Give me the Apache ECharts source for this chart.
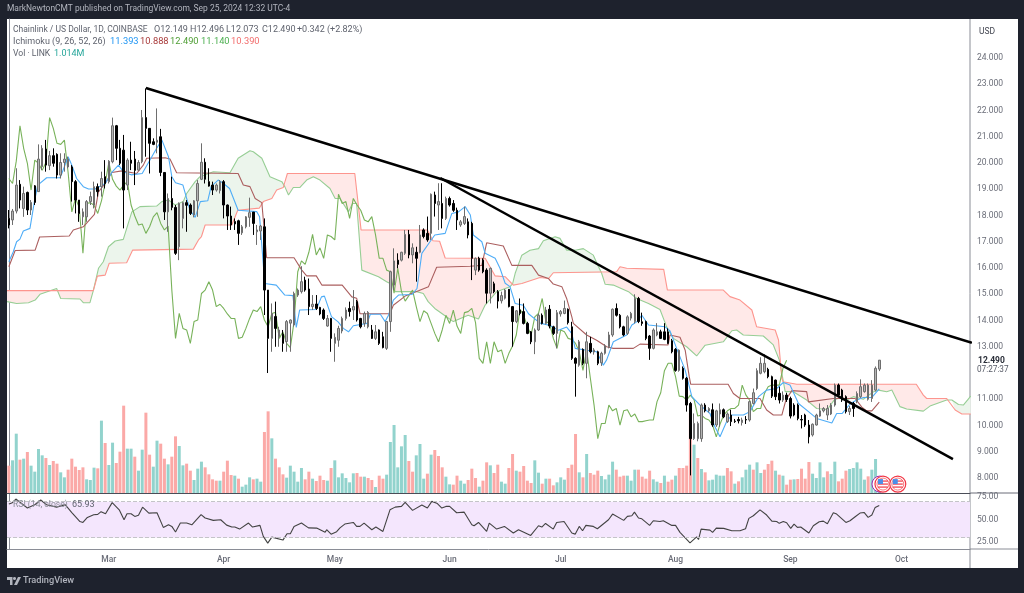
<!DOCTYPE html>
<html>
<head>
<meta charset="utf-8">
<script src="https://cdn.jsdelivr.net/npm/echarts@6/dist/echarts.min.js"></script>
<style>
  html, body { margin: 0; padding: 0; background: #1e222d; }
  #chart { width: 1024px; height: 593px; }
</style>
</head>
<body>
<div id="chart"></div>
<script>
// daily candles from Feb 3 2024: [open, close, low, high]
const candles = [
  [17.89,17.64,17.51,18.21],[17.83,18.17,17.64,18.25],[18.17,19.16,18.08,19.8],[19.19,18.59,18.27,19.35],[18.27,18.84,17.95,19.1],
  [18.88,18.21,18.02,18.91],[18.21,18.5,18.02,18.59],[19.13,18.5,18.4,19.16],[18.91,20.15,18.91,20.71],[19.86,20.56,19.73,20.68],
  [20.53,19.92,19.67,20.88],[19.9,20.28,19.73,20.46],[20.28,19.99,19.86,20.56],[20.33,19.54,19.41,20.37],[19.54,20.02,19.41,20.37],
  [20.02,20.15,19.67,20.37],[19.85,20.15,19.8,20.24],[19.85,19.29,18.53,19.92],[19.29,18.59,18.08,19.35],[18.59,18.08,17.76,18.59],
  [17.95,18.14,17.64,18.27],[17.95,18.53,17.76,18.59],[18.53,18.72,18.4,18.91],[18.4,19.1,18.27,19.29],[19.1,18.91,18.72,19.22],
  [19.1,19.41,18.72,19.67],[19.48,19.22,19.03,20.11],[19.29,20.07,19.22,20.11],[20.05,21.42,19.99,21.73],[21.42,20.56,20.11,21.45],
  [20.56,19.99,19.92,20.88],[20.49,18.97,17.51,21.07],[19.16,20.11,18.97,20.18],[20.11,19.99,19.73,20.81],[20.15,19.72,19.16,20.46],
  [19.73,20.02,19.7,20.11],[20.05,21.73,19.99,22.02],[21.73,21.32,20.24,22.84],[21.32,20.75,19.6,21.32],[20.81,20.71,20.68,20.94],
  [20.79,20.87,20.37,22.08],[21.0,19.64,19.5,21.3],[19.64,18.14,17.83,19.64],[18.14,18.65,17.38,18.84],[18.65,18.31,18.2,19.48],
  [18.31,16.56,16.5,18.4],[16.81,18.46,16.3,18.5],[17.89,18.49,17.51,18.53],[18.49,18.39,17.38,18.59],[18.4,18.08,18.02,18.46],
  [18.02,18.56,17.93,18.59],[18.56,19.22,17.95,19.35],[19.38,20.03,19.35,20.75],[20.03,19.38,19.22,20.18],[19.29,19.12,19.1,19.8],
  [19.16,18.97,18.78,19.29],[18.97,19.16,18.91,19.22],[18.95,19.29,18.84,19.35],[19.29,18.4,17.89,19.35],[18.4,17.98,17.45,18.42],
  [17.98,17.64,17.45,18.34],[17.77,17.68,17.45,17.89],[17.8,17.32,16.88,17.84],[17.34,17.57,17.26,17.64],[17.57,17.95,17.51,17.98],
  [17.93,18.11,17.57,18.68],[18.13,17.7,17.26,18.13],[17.38,17.45,16.88,17.64],[17.41,17.6,17.07,17.64],[17.57,15.16,14.21,17.89],
  [15.16,13.32,12.0,15.16],[13.32,14.27,12.81,14.65],[14.15,13.7,13.0,14.72],[13.38,13.64,13.0,13.76],[13.48,13.13,12.81,13.64],
  [13.2,13.96,12.81,14.02],[13.9,14.02,12.81,14.04],[13.83,15.03,13.77,15.1],[14.97,15.16,14.9,15.22],[15.1,15.48,15.03,16.07],
  [15.54,15.16,15.1,15.67],[15.2,14.53,14.21,15.6],[14.53,14.62,14.4,14.97],[14.63,14.46,14.4,14.97],[14.5,14.25,14.2,14.52],
  [14.4,14.08,14.02,14.46],[13.79,14.08,13.76,14.21],[14.08,13.32,12.81,14.1],[13.13,13.36,12.43,13.51],[13.25,13.7,13.0,13.8],
  [13.6,14.08,13.51,14.15],[14.08,14.4,14.0,14.5],[14.46,14.34,14.15,14.72],[14.4,14.53,14.02,15.16],[14.72,14.02,13.96,14.78],
  [14.08,13.76,13.7,14.1],[13.89,14.27,13.76,14.34],[13.76,14.31,13.7,14.36],[13.64,13.32,13.3,13.83],[13.32,13.57,13.26,13.83],
  [13.64,13.13,13.07,13.66],[13.38,12.97,12.94,13.57],[12.94,13.96,12.88,13.98],[13.96,15.86,13.57,15.9],[15.35,16.27,15.16,16.75],
  [16.3,16.14,15.99,16.56],[16.3,16.6,16.25,16.62],[16.56,17.28,16.5,17.45],[17.28,16.5,16.37,17.45],[16.5,16.77,16.18,16.94],
  [16.6,16.37,15.48,16.81],[16.6,17.26,16.56,17.64],[17.45,17.2,17.13,17.51],[17.32,17.07,17.0,17.96],[17.32,18.81,17.07,18.84],
  [18.78,18.46,17.96,18.91],[18.4,18.53,17.45,19.23],[18.46,17.89,17.51,19.23],[17.89,18.65,17.83,18.72],[18.65,18.4,18.34,18.72],
  [18.46,18.2,18.14,18.59],[18.2,17.83,17.45,18.3],[17.64,17.76,17.57,17.83],[17.7,17.96,17.64,18.34],[17.76,17.26,17.13,17.89],
  [17.7,16.37,15.54,17.76],[15.92,16.37,15.73,16.4],[16.37,15.92,15.86,16.43],[16.3,15.86,15.8,16.37],[15.92,15.04,14.65,15.99],
  [15.04,15.99,14.65,16.02],[15.4,15.1,15.04,15.48],[15.1,14.74,14.46,15.16],[14.75,14.95,14.65,15.1],[14.85,15.16,14.8,15.2],
  [15.19,14.53,14.5,15.2],[14.53,13.96,13.0,14.55],[13.96,14.37,13.9,14.4],[14.4,14.27,14.2,14.84],[14.34,13.89,13.85,14.65],
  [13.89,13.51,13.48,13.95],[13.57,13.19,13.1,13.6],[13.19,13.64,12.72,13.7],[13.64,14.2,13.6,14.27],[14.2,13.89,13.85,14.27],
  [13.89,14.4,13.85,14.52],[14.43,13.79,13.7,14.59],[13.76,13.51,13.45,13.8],[13.51,14.3,12.94,14.4],[14.25,14.34,14.15,14.4],
  [14.27,14.46,14.24,14.76],[14.43,13.92,13.85,14.46],[13.76,12.56,12.5,13.95],[12.56,12.37,11.1,12.6],[12.3,13.19,12.24,13.26],
  [12.9,12.37,12.3,12.94],[12.37,13.19,11.8,13.57],[13.13,12.81,12.75,13.38],[12.8,12.88,12.7,12.95],[12.81,12.37,12.3,12.85],
  [12.39,12.75,12.27,12.81],[12.75,13.03,12.7,13.1],[13.0,13.45,12.94,13.57],[13.45,14.43,13.38,14.46],[14.46,14.2,14.15,14.65],
  [14.2,13.76,13.7,14.25],[13.76,13.45,13.4,13.8],[13.51,14.14,13.45,14.2],[14.09,14.27,14.0,14.33],[13.96,14.84,13.89,15.0],
  [14.84,13.96,13.9,14.9],[13.95,13.89,13.8,14.3],[13.96,13.32,13.25,14.0],[13.41,12.94,12.5,13.45],[12.94,13.64,12.9,13.7],
  [13.45,13.57,13.4,13.9],[13.57,13.32,13.3,13.65],[13.57,13.28,13.25,13.9],[13.57,13.13,13.1,13.7],[13.23,12.81,12.75,13.3],
  [12.9,12.1,12.05,12.95],[12.1,12.87,12.05,12.9],[12.18,11.8,11.75,12.25],[11.8,10.78,10.53,11.85],[10.84,9.5,8.1,10.9],
  [9.5,10.08,9.45,10.46],[9.5,10.08,9.4,10.15],[9.5,10.78,9.38,10.84],[10.78,10.56,10.5,10.85],[10.56,10.65,10.5,10.7],
  [10.6,10.02,9.95,10.84],[10.02,10.56,9.95,10.6],[10.44,10.6,9.95,10.84],[10.6,10.33,10.28,10.65],[10.15,10.44,10.1,10.5],
  [10.4,10.15,9.98,10.6],[10.17,10.15,10.1,10.25],[10.23,10.18,10.08,10.33],[10.11,10.21,10.0,10.3],[10.23,10.21,10.06,10.36],
  [10.21,10.91,10.15,10.95],[10.84,11.25,10.8,11.41],[11.41,12.09,11.35,12.18],[11.99,12.37,11.95,12.6],[12.05,12.37,11.99,12.72],
  [12.14,11.86,11.8,12.2],[11.86,11.12,11.05,11.9],[11.73,11.1,10.97,11.75],[11.23,10.97,10.84,11.48],[10.97,11.16,10.9,11.3],
  [11.16,10.99,10.9,11.25],[11.03,10.36,10.27,11.1],[10.78,10.4,10.35,10.85],[10.78,10.27,10.2,10.84],[10.23,10.21,9.89,10.4],
  [10.4,10.02,9.95,10.45],[10.02,9.57,9.32,10.21],[9.64,10.05,9.58,10.08],[10.02,10.4,10.0,10.45],[10.36,10.56,10.33,10.84],
  [10.56,10.65,10.5,10.7],[10.4,10.65,10.21,10.78],[10.44,10.78,10.4,10.85],[10.78,11.54,10.72,11.6],[11.54,11.16,11.1,11.6],
  [11.35,10.97,10.9,11.4],[11.1,10.53,10.46,11.15],[10.53,10.65,10.4,10.75],[10.84,10.65,10.33,10.9],[10.9,11.22,10.85,11.3],
  [11.1,11.48,11.05,11.76],[11.29,11.54,11.25,11.6],[11.0,11.54,10.95,11.6],[11.03,11.54,10.9,11.73],[11.35,12.18,11.3,12.25],
  [12.149,12.49,12.073,12.496]
]

// ichimoku, as [bar index, price] corners
const conversionLine = [[0,16.24],[1.2,16.62],[2.1,17],[3,17.1],[3.9,17.41],[5.7,17.51],[6.9,18.53],[7.8,19.16],[10.2,19.44],[13.8,19.44],[14.3,19.6],[16,20.24],[17,19.92],[18.3,19.41],[20.1,19.1],[21.5,19.01],[23.3,19.01],[26,19.22],[27.8,19.64],[29.6,19.92],[30.9,19.67],[33,19.55],[36,19.6],[38.6,20.24],[39.9,20.56],[41.3,20.88],[43.1,20.24],[44,19.48],[45,19.25],[47,19.16],[48.9,18.2],[50.3,17.93],[51.7,18.53],[53.7,18.56],[54.6,19.1],[56.5,19.35],[57.7,19.25],[59.6,19.03],[61.9,18.2],[66.9,18.15],[67.7,17.95],[69.1,15.41],[72.2,15.35],[74.5,14.97],[76.7,14.95],[77.6,13.74],[78.5,14.4],[83,14.42],[84.4,14.9],[85.2,14.93],[87.1,14.15],[88.9,13.95],[90.3,13.7],[91.7,13.57],[93,13.8],[96.7,13.89],[97.6,14.24],[100.3,14.24],[101.6,13.96],[102.5,14.2],[103.8,14.78],[105.2,14.97],[108.8,14.99],[110.2,15.22],[111.5,16.56],[113.7,17],[115,17.26],[117.8,17.32],[119.6,18.08],[121.4,18.14],[123.2,18.34],[124.6,18.02],[125.4,17.26],[127.7,17],[128.6,16.56],[131.3,16.37],[132.6,15.99],[134,15.42],[135.3,15.29],[136.7,14.65],[138.9,14.58],[140.3,14.26],[143.4,13.9],[146.1,13.81],[148.4,13.63],[150.6,13.75],[152,13.5],[152.9,12.94],[156,12.87],[158.7,12.81],[160.5,12.3],[161.4,12.5],[163.2,13.19],[166.8,13.45],[168.2,13.83],[169.5,13.95],[170.9,14.2],[172.7,13.83],[177.2,13.76],[178.5,13.6],[180.3,12.94],[182.6,12.11],[184.4,11.1],[186.6,10.78],[189.3,10.46],[190.6,9.96],[192,9.57],[193.8,10.15],[195.2,10.4],[198.3,10.4],[200.1,10.53],[202.4,11.1],[204.6,11.35],[207.3,11.41],[209.1,11.64],[210.9,11.54],[213.2,10.84],[215.9,10.53],[218.1,10.27],[222.2,10.1],[223.5,10.46],[225,10.46],[227.1,10.82],[228.9,10.97],[230.7,11.07],[233,11.07],[235,11.393]]
const baseLine = [[0,16.05],[1.7,16.67],[7.1,16.68],[8.3,17.18],[16.3,17.22],[17.4,17.45],[20.1,17.57],[23.1,18.04],[24.2,18.9],[26,19.22],[27.8,19.64],[30.5,19.7],[34.5,19.6],[36.3,19.92],[37.2,20.18],[42.2,20.2],[43.5,20.15],[45.3,19.63],[61.9,19.6],[63.3,19.16],[65.1,19.1],[66.5,18.65],[68.3,18.49],[69.6,16.39],[77,16.39],[79.1,15.92],[80.4,15.7],[83,15.7],[84.5,15.35],[90,15.35],[92.6,14.9],[93.9,14.85],[94.8,14.26],[102.9,14.26],[103.8,14.58],[107,14.93],[110.6,15.13],[113.3,15.29],[115.5,16.03],[124.5,16.07],[127.7,16.1],[129,16.96],[133.5,16.84],[135.8,16.1],[141.2,16.1],[143,15.73],[145.7,15.6],[147,15.39],[149.3,15.29],[150.6,14.84],[152,14.14],[152.4,13.89],[156,13.45],[158.7,13.25],[161.4,13],[163.2,12.94],[168.6,12.94],[170.4,13.1],[178,13.07],[178.5,13.45],[181.2,13.36],[182.6,12.87],[183.7,11.86],[184.1,11.57],[194.2,11.57],[195.6,11.22],[197.4,11.03],[202.8,11.03],[204.6,10.59],[206.4,10.4],[208.7,10.4],[209.8,10.98],[211.4,11.33],[215.4,11.29],[215.9,10.9],[222.6,11.03],[228.5,11.03],[230.3,10.7],[231.6,10.56],[233,10.56],[235,10.888]]
const leadA = [[-0.5,14.72],[2.1,14.65],[5.3,14.68],[7.1,14.78],[8.4,15],[12.9,15.22],[14,14.84],[19.2,14.82],[20.1,14.68],[21.9,14.68],[22.8,15.14],[24.2,15.99],[25.5,16.24],[26.9,16.81],[28.7,17.03],[30.9,17.09],[33.2,18.14],[35.4,18.34],[39.9,18.36],[41.3,18.53],[43.1,18.59],[44.9,18.4],[47.1,18.53],[48,18.84],[50.3,19.29],[51.6,19.48],[55.2,19.67],[59.7,19.63],[61.9,20.18],[65.1,20.47],[66,20.43],[68.3,20.18],[70.5,19.48],[73.7,19.29],[74.5,19.1],[75.5,18.78],[76.8,19.07],[78.6,19.07],[80.4,19.35],[82.2,19.48],[84,19.35],[86.7,19.03],[88.1,18.65],[89.4,18.65],[91.7,18.14],[92.8,18.46],[93.9,18.46],[95.3,15.92],[99.8,15.67],[102,15.48],[103.8,15.35],[104.3,15.1],[110.1,15.1],[111.9,15.03],[113.2,14.72],[115,14.46],[116.9,14.27],[120,13.96],[124,14.2],[126.8,14.06],[128.6,14.59],[131.7,15.1],[135.3,15.29],[136,15.4],[136.7,15.8],[138.5,16.49],[140.7,16.68],[143,16.74],[144.3,17.04],[147.5,17.19],[148.8,17.13],[150.6,16.68],[152.9,16.68],[155.1,16.74],[157.8,16.49],[159.2,16.05],[160,15.82],[161,15.38],[163.2,15.35],[167.3,15.1],[169.5,14.84],[172.7,14.65],[175.8,14.42],[177.6,13.76],[179.4,13.32],[183,13],[185.7,12.65],[188,13.06],[192.9,13.19],[195.2,13.61],[196.5,13.64],[198.3,13.45],[203.7,13.41],[206.4,13.07],[208,12.5],[208.7,11.99],[209.6,11.29],[211.8,11.29],[215.4,10.97],[218.1,10.65],[221,10.61],[222.8,10.97],[224.5,11.07],[226.2,10.97],[228,11.1],[230.7,11],[233.4,11.28],[234.8,11.35],[237,11.29],[238.4,11.35],[240.6,10.72],[242.4,10.63],[246.9,10.55],[248.7,10.74],[253.2,10.97],[254.6,10.97],[256.4,10.8],[257.7,10.78],[259.7,11.12]]
const leadB = [[-0.5,15.14],[22.8,15.14],[23.9,15.69],[26,15.73],[27.1,16.18],[31.8,16.2],[33.4,16.68],[49.8,16.72],[51.2,17.07],[52,17.2],[53,17.64],[60.2,17.64],[61.8,18.2],[67.6,18.28],[68.7,18.53],[71,18.65],[72.3,18.97],[74.1,19.07],[75.2,19.6],[93.4,19.6],[95.1,17.45],[113,17.45],[114.5,17.04],[116.3,17.02],[117.8,16.38],[128.6,16.37],[131.3,15.7],[134,15.67],[136.2,15.35],[138.5,15.41],[143.4,15.64],[145.7,15.6],[147,15.82],[164.1,15.86],[165,16.05],[166.8,15.99],[176.8,15.95],[177.8,15.16],[192.9,15.16],[194.7,14.91],[197.4,14.78],[200.6,14.4],[201.9,13.76],[206.9,13.64],[207.8,13.26],[208.7,11.8],[209,11.67],[212.7,11.57],[245,11.57],[246.9,11.16],[247.8,11.03],[253.2,11.03],[255.5,10.59],[257.3,10.44],[259.7,10.44]]
// lagging span from bar 0 onwards
const lagging = [19.41,19.22,20.07,21.42,20.56,19.99,18.97,20.11,19.99,19.72,20.02,21.73,21.32,20.75,20.71,20.87,19.64,18.14,18.65,18.31,
  16.56,18.46,18.49,18.39,18.08,18.56,19.22,20.03,19.38,19.12,18.97,19.16,19.29,18.4,17.98,17.64,17.68,17.32,17.57,17.95,
  18.11,17.7,17.45,17.6,15.16,13.32,14.27,13.7,13.64,13.13,13.96,14.02,15.03,15.16,15.48,15.16,14.53,14.62,14.46,14.25,
  14.08,14.08,13.32,13.36,13.7,14.08,14.4,14.34,14.53,14.02,13.76,14.27,14.31,13.32,13.57,13.13,12.97,13.96,15.86,16.27,
  16.14,16.6,17.28,16.5,16.77,16.37,17.26,17.2,17.07,18.81,18.46,18.53,17.89,18.65,18.4,18.2,17.83,17.76,17.96,17.26,
  16.37,16.37,15.92,15.86,15.04,15.99,15.1,14.74,14.95,15.16,14.53,13.96,14.37,14.27,13.89,13.51,13.19,13.64,14.2,13.89,
  14.4,13.79,13.51,14.3,14.34,14.46,13.92,12.56,12.37,13.19,12.37,13.19,12.81,12.88,12.37,12.75,13.03,13.45,14.43,14.2,
  13.76,13.45,14.14,14.27,14.84,13.96,13.89,13.32,12.94,13.64,13.57,13.32,13.28,13.13,12.81,12.1,12.87,11.8,10.78,9.5,
  10.08,10.08,10.78,10.56,10.65,10.02,10.56,10.6,10.33,10.44,10.15,10.15,10.18,10.21,10.21,10.91,11.25,12.09,12.37,12.37,
  11.86,11.12,11.1,10.97,11.16,10.99,10.36,10.4,10.27,10.21,10.02,9.57,10.05,10.4,10.56,10.65,10.65,10.78,11.54,11.16,
  10.97,10.53,10.65,10.65,11.22,11.48,11.54,11.54,11.54,12.18,12.49]
// cloud stretches between crossings of the two lead lines: [from, to, side]
const cloudSpans = [[-0.5,22.8,'r'],[22.8,74.5,'g'],[74.5,136,'r'],[136,160,'g'],[160,254,'r'],[254,259.7,'g']]

const volume = [.82,.98,1.78,1,1.03,1.23,.82,.64,1.32,1.13,1.05,.84,.96,.88,.62,.47,.7,1.03,.79,.69,.77,.41,.39,.76,.74,2.17,1.5,.84,1.51,.9,
  1.24,2.62,1.33,1.33,1.09,.67,1.3,2.41,1.15,.79,1.57,1.48,1.03,.86,1.09,1.7,1.41,.83,.88,.67,.39,.73,.94,.77,.56,.41,.37,.37,.64,.97,
  .54,.52,.43,.19,.25,.47,.41,.43,.34,1.83,2.45,1.64,1.03,.77,.56,.46,.82,.64,.34,.75,.41,.64,.43,.36,.52,.39,.37,.75,.98,.47,
  .59,.45,.32,.59,.6,.49,.49,.45,.39,.18,.52,.43,.55,1.53,2.04,.77,1.4,1.74,.96,.64,1.13,1.47,.43,.58,1.15,1.29,1.11,.77,.49,.26,
  .25,.52,.37,.28,.39,.73,.45,.19,.37,.92,.83,.6,.85,.34,.28,.75,1.17,.67,.64,.81,.37,.3,.98,.61,.28,.43,.43,.23,.32,.47,
  .4,.75,.85,1.77,.62,.47,1.17,.6,.55,.67,.51,.41,.55,.94,.7,.49,.52,.52,.37,.7,.7,.49,.43,.67,.41,.34,.3,.52,.34,.4,
  .52,.75,.75,.82,2.4,1.45,1.05,.72,.62,.38,.4,.55,.52,.52,.75,.65,.28,.35,.47,.7,.85,.7,.92,.6,.7,.87,.97,.67,.55,.52,
  .25,.4,.41,.42,.73,.43,.93,.58,.45,.92,.47,.65,.57,.94,.35,.43,.67,.72,.75,.92,.73,.4,.5,.7,1.02,.3]
// bar colour of each volume bar, ten bars to a group
const volumeSide = [
  'rggrgrgggg','rgrrggrrrr','rgggrgrggr','rrggrggrrg','grrgrrggrr','gggrrrrgrr','rgrgggrggr','rgrrrggggg',
  'rrgrrrgrgg','ggggrrgrrg','rrggggggrr','gggrgrrrgg','rrggrrrgrr','grrggrrgrr','rrggrgrrgg','grrrgrgrrr',
  'ggggrrrggg','rrrrggrgrr','grrrrgrgrg','ggggrrgrgg','grggrrrgrg','rrgrrrrggg','grggrrrggg','ggrggg'
].join('').split('')

const rsi = [[0,67.4],[.8,68.5],[1.9,73],[3,69.6],[5,63],[7,66.7],[8.6,71.9],[10.2,66.7],[12.9,64],[15.2,66.7],[17,58],[19.2,48],[20,47],[21.2,52.6],[22.9,55.6],[24,56],[24.9,59],[26.1,56.7],[27.9,69],[29.8,61],[31.1,50],[31.9,56.7],[33,56.7],[34,53.7],[35,55],[36.1,64],[37.8,57.4],[40,57.8],[41.7,41.5],[43.1,44.4],[44,42.6],[45,36.3],[46.3,46.3],[48,46.3],[49.4,44.4],[51.9,55.6],[53,51.9],[55.2,49.3],[57.2,50],[58.8,44],[60.2,41.9],[61,42],[62.3,39.6],[64.7,46.3],[65.8,41.9],[67.8,43.7],[68.7,31.5],[69.9,24],[71,30.7],[74,27.4],[75.1,34.4],[76,34.4],[77,42.6],[79,46.3],[80.9,41],[83.1,40.7],[85.4,36],[85.8,38.9],[87,34],[88.5,36.7],[89.4,41],[90.7,45.2],[93,47],[93.9,42.6],[94.8,42.6],[95.9,46.3],[98,38.9],[99.1,41.9],[101,37],[102.9,61],[104.3,64],[106,64.8],[107,69.3],[109,60.4],[111.5,66.3],[113,63],[114.2,70.4],[115.7,68],[116.9,63],[118,64.8],[119,64.8],[120.9,57.8],[122.9,58.5],[125,44.4],[125.6,43.3],[126.8,47],[129,37],[129.7,46.3],[131.7,39.6],[133.8,42.6],[136.2,35.2],[137.6,38.9],[140.9,32.6],[143,43.3],[143.9,41.9],[144.9,45.9],[147,39.6],[147.9,47],[149.9,48.1],[152,35.2],[152.9,34],[154,42.6],[154.9,37.8],[155.8,43.7],[157.8,42.6],[158.9,40],[161.9,50],[163,56.3],[166,49.3],[167,53.7],[168.2,54.4],[168.9,58.5],[170,51.9],[170.9,51],[173,43.7],[174,48.9],[175.8,48],[176.7,48.9],[179,43.7],[180,43.7],[181.2,36],[183.9,24.4],[185.7,31],[186.2,28],[186.9,39.6],[189.3,38.5],[190,36],[191,40.7],[193,40.4],[195.2,37.8],[197.4,37.8],[198.9,40],[199.8,51.5],[201,54.4],[202.8,61],[204.6,55.2],[206,48.5],[207.3,48],[208,46],[209.1,48],[210,46.7],[211.1,40.4],[212,45.2],[212.9,41.5],[213.8,41.9],[216,35.2],[217.2,43.3],[218.8,47.8],[219.9,48.5],[221,45.6],[222.6,57.8],[223.5,56.3],[226,47],[227.1,48.9],[228.5,53.3],[229.8,57.4],[230.9,58.1],[232,52.6],[233,55.2],[233.9,63.7],[235,65.93]]

const trendLineA = [[37,22.86],[260,13.15]]
const trendLineB = [[116.5,19.43],[254.9,8.72]]
const priceTicks = [8,9,10,11,13,14,15,16,17,18,19,20,21,22,23,24]
const rsiTicks = [25,50,75]
const monthTicks = [27,58,88,119,149,180,211,241]
const monthNames = ['Mar','Apr','May','Jun','Jul','Aug','Sep','Oct']
const earningsFlags = [[236,7.77],[240,7.77]]

const days = Array.from({ length: 260 }, (_, i) => String(i))
const axisGray = '#6a6d78'
const uiFont = 'Roboto, "Liberation Sans", sans-serif'

const plainLine = (name, data, color, width, z) => ({
  name, type: 'line', xAxisIndex: 1, yAxisIndex: 0, data, z,
  showSymbol: false, symbol: 'none', silent: true, animation: false,
  lineStyle: { color, width }
})

const inSpan = (line, from, to) => line.filter(p => p[0] >= from && p[0] <= to)

// one piece of header or legend text
const label = (x, y, text, fill, size, weight) => ({
  type: 'text', silent: true, z: 100, x, y,
  style: { text, fill, font: (weight || 'normal') + ' ' + size + 'px ' + uiFont }
})

const chart = echarts.init(document.getElementById('chart'))
chart.setOption({
  backgroundColor: '#1e222d',
  animation: false,
  textStyle: { fontFamily: uiFont },
  grid: [
    { left: 7, top: 19, width: 963, height: 474 },
    { left: 7, top: 493, width: 963, height: 56 }
  ],
  xAxis: [
    { type: 'category', gridIndex: 0, data: days, boundaryGap: true, axisLabel: { show: false }, axisTick: { show: false },
      axisLine: { show: true, lineStyle: { color: '#4a4d57', width: 1 } }, splitLine: { show: false } },
    { type: 'value', gridIndex: 0, min: -0.5, max: 259.5, show: false, splitLine: { show: false } },
    { type: 'value', gridIndex: 1, min: -0.5, max: 259.5, splitLine: { show: false }, axisTick: { show: false },
      axisLine: { show: true, onZero: false, lineStyle: { color: '#8a8d96', width: 1 } },
      axisLabel: { customValues: monthTicks, color: axisGray, fontSize: 8.5, fontWeight: 500, margin: 6,
        formatter: v => monthNames[monthTicks.indexOf(v)] } }
  ],
  yAxis: [
    { type: 'value', gridIndex: 0, position: 'right', min: 7.43, max: 25.486, splitLine: { show: false }, axisTick: { show: false },
      axisLine: { show: true, lineStyle: { color: '#8a8d96', width: 1 } },
      axisLabel: { customValues: priceTicks, color: axisGray, fontSize: 8.5, margin: 7, formatter: v => v.toFixed(3) } },
    { type: 'value', gridIndex: 0, min: 0, max: 14.22, show: false, splitLine: { show: false } },
    { type: 'value', gridIndex: 1, position: 'right', min: 17.5, max: 79.7, splitLine: { show: false }, axisTick: { show: false },
      axisLine: { show: true, lineStyle: { color: '#8a8d96', width: 1 } },
      axisLabel: { customValues: rsiTicks, color: axisGray, fontSize: 8.5, margin: 7, formatter: v => v.toFixed(2) } }
  ],
  graphic: [
    { type: 'rect', silent: true, z: -10, shape: { x: 7, y: 19, width: 1011, height: 549 }, style: { fill: '#ffffff' } },
    { type: 'line', silent: true, shape: { x1: 970, y1: 493, x2: 1018, y2: 493 }, style: { stroke: '#6a6d78', lineWidth: 1 } },
    { type: 'line', silent: true, shape: { x1: 970, y1: 549, x2: 1018, y2: 549 }, style: { stroke: '#8a8d96', lineWidth: 1 } },
    { type: 'line', silent: true, shape: { x1: 970, y1: 19, x2: 970, y2: 568 }, style: { stroke: '#8a8d96', lineWidth: 1 } },
    label(7, 5, 'MarkNewtonCMT published on TradingView.com, Sep 25, 2024 12:32 UTC-4', '#b2b5be', 8.45),
    label(13, 25, 'Chainlink / US Dollar, 1D, COINBASE', '#5f636e', 8.5),
    label(154, 25, 'O12.149', '#5f636e', 9),
    label(190, 25, 'H12.496', '#5f636e', 9),
    label(226, 25, 'L12.073', '#5f636e', 9),
    label(262, 25, 'C12.490', '#5f636e', 9),
    label(297, 25, '+0.342 (+2.82%)', '#5f636e', 9),
    label(13, 37, 'Ichimoku (9, 26, 52, 26)', '#5f636e', 9),
    label(110, 37, '11.393', '#2196f3', 9.3),
    label(140, 37, '10.888', '#a83a3a', 9.3),
    label(170, 37, '12.490', '#4f9e35', 9.3),
    label(201, 37, '11.140', '#4caf50', 9.3),
    label(231, 37, '10.390', '#f26d6d', 9.3),
    label(13, 49, 'Vol \u00b7 LINK', '#5f636e', 8.6),
    label(54, 49, '1.014M', '#26a69a', 9),
    label(13, 500, 'RSI (14, close)', '#8a8d96', 8.6),
    label(72, 500, '65.93', '#5f636e', 9),
    label(979, 27, 'USD', '#434651', 8.5),
    label(978, 356, '12.490', '#2a2e39', 8.5, 'bold'),
    label(977, 366, '07:27:37', '#565a66', 8.2),
    { type: 'image', silent: true, style: { image: wordmarkIcon(), x: 7, y: 576, width: 14, height: 10 } },
    label(23, 576, 'TradingView', '#b2b5be', 9.2, '500')
  ],
  series: [
    {
      type: 'bar', name: 'Vol', xAxisIndex: 0, yAxisIndex: 1, data: volume, barWidth: 3, z: 1, silent: true,
      itemStyle: { color: p => volumeSide[p.dataIndex] === 'g' ? '#92d3cd' : '#fba9a7' }
    },
    {
      type: 'custom', name: 'Cloud', xAxisIndex: 1, yAxisIndex: 0, data: cloudSpans, z: 2, silent: true,
      renderItem: (params, api) => {
        const [from, to, side] = cloudSpans[params.dataIndex]
        const upper = inSpan(leadA, from, to)
        const lower = inSpan(leadB, from, to).reverse()
        return {
          type: 'polygon',
          shape: { points: upper.concat(lower).map(p => api.coord(p)) },
          style: { fill: side === 'g' ? '#ecf5ec' : '#ffe9e8' }
        }
      }
    },
    plainLine('Lead A', leadA, '#97ce95', 1.1, 3),
    plainLine('Lead B', leadB, '#fd958e', 1.1, 3),
    plainLine('Lagging', lagging.map((v, i) => [i, v]), '#78b25a', 1.1, 4),
    plainLine('Base', baseLine, '#ab5f5f', 1.1, 4),
    plainLine('Conversion', conversionLine, '#4fadf7', 1.1, 4),
    {
      type: 'candlestick', name: 'LINKUSD', xAxisIndex: 0, yAxisIndex: 0, data: candles, barWidth: 2, z: 5, silent: true,
      itemStyle: { color: '#b4b4b4', color0: '#000000', borderColor: '#6e6e6e', borderColor0: '#000000', borderWidth: 1 }
    },
    plainLine('Trend A', trendLineA, '#000000', 2.5, 6),
    plainLine('Trend B', trendLineB, '#000000', 2.5, 6),
    {
      type: 'custom', name: 'Flags', xAxisIndex: 0, yAxisIndex: 0, data: earningsFlags, z: 7, silent: true,
      renderItem: (params, api) => {
        const [cx, cy] = api.coord([api.value(0), api.value(1)])
        const bars = [-3, 0, 3].map(d => ({ type: 'line', shape: { x1: cx - 5, y1: cy + d, x2: cx + 5, y2: cy + d }, style: { stroke: '#f23645', lineWidth: 1.2 } }))
        const ring = params.dataIndex === 0
          ? [{ type: 'circle', shape: { cx: cx - 3, cy, r: 8 }, style: { fill: '#fff', stroke: '#9c27b0', lineWidth: 1 } }]
          : []
        return {
          type: 'group',
          children: ring.concat([
            { type: 'circle', shape: { cx, cy, r: 8 }, style: { fill: '#fff', stroke: '#f23645', lineWidth: 1.2 } },
            { type: 'circle', shape: { cx, cy, r: 6 }, style: { fill: '#fff', stroke: '#f77c80', lineWidth: 1 } }
          ], bars, [{ type: 'rect', shape: { x: cx - 5, y: cy - 5, width: 5, height: 5 }, style: { fill: '#4b8fe8' } }])
        }
      }
    },
    {
      type: 'line', name: 'RSI', xAxisIndex: 2, yAxisIndex: 2, data: rsi, z: 4, silent: true,
      showSymbol: false, symbol: 'none', lineStyle: { color: '#434343', width: 1.1 },
      markArea: { silent: true, itemStyle: { color: '#f4e6fd' }, data: [[{ yAxis: 70 }, { yAxis: 30 }]] },
      markLine: { silent: true, symbol: 'none', label: { show: false }, lineStyle: { color: '#c4c4c8', type: 'dashed', width: 1 }, data: [{ yAxis: 70 }, { yAxis: 30 }] }
    }
  ]
})

// small TradingView mark next to the wordmark
function wordmarkIcon() {
  const c = document.createElement('canvas')
  c.width = 28; c.height = 20
  const g = c.getContext('2d')
  g.fillStyle = '#b2b5be'
  g.fillRect(0, 2, 11, 6)
  g.fillRect(6, 2, 5, 16)
  g.beginPath(); g.arc(15, 5, 3, 0, 7); g.fill()
  g.beginPath(); g.moveTo(22, 2); g.lineTo(28, 2); g.lineTo(20, 18); g.lineTo(14, 18); g.fill()
  return c
}
</script>
</body>
</html>
